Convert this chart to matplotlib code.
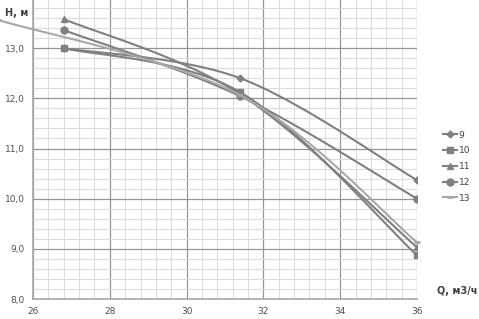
import numpy as np
import matplotlib.pyplot as plt
from matplotlib.ticker import MultipleLocator, FixedLocator, FuncFormatter

# pump curves, Q (m3/h) vs H (m)
q = [26.8, 31.4, 36.0]
q13 = [25.1, 31.4, 36.0]
h9 = [13.0, 12.40, 10.37]
h10 = [13.0, 12.12, 8.87]
h11 = [13.58, 12.08, 9.03]
h12 = [13.36, 12.04, 10.0]
h13 = [13.56, 12.06, 9.13]

labels = ['9', '10', '11', '12', '13']
markers = ['D', 's', '^', 'o', '_']
sizes = [3.5, 5, 4.5, 5, 5]
yticks = [8, 9, 10, 11, 12, 13]

XMIN, XMAX, YMIN, YMAX = 26, 36, 8, 14


def smooth(x, y, n=30):
    # Excel-style bezier smoothing, done in screen-like units
    sx, sy = 384.0 / (XMAX - XMIN), 301.0 / (YMAX - YMIN)
    p = np.column_stack([(np.asarray(x) - XMIN) * sx, (np.asarray(y) - YMIN) * sy])
    out = [p[0]]
    t = np.linspace(0, 1, n + 1)[1:, None]
    for i in range(len(p) - 1):
        p0 = p[max(i - 1, 0)]
        p1, p2 = p[i], p[i + 1]
        p3 = p[min(i + 2, len(p) - 1)]
        c1 = p1 + (p2 - p0) / 6
        c2 = p2 - (p3 - p1) / 6
        seg = ((1 - t) ** 3 * p1 + 3 * (1 - t) ** 2 * t * c1
               + 3 * (1 - t) * t ** 2 * c2 + t ** 3 * p2)
        out.extend(seg)
    out = np.array(out)
    return out[:, 0] / sx + XMIN, out[:, 1] / sy + YMIN


fig = plt.figure(figsize=(4.79, 3.19), dpi=100)
ax = fig.add_axes([33 / 479, 1 - 299 / 319, 384 / 479, 301 / 319])

series = [(q, h9), (q, h10), (q, h11), (q, h12), (q13, h13)]
n = 30
for i, (xs, ys) in enumerate(series):
    cx, cy = smooth(xs, ys, n)
    col = '#a8a8a8' if i == 4 else '#808080'
    ax.plot(cx, cy, color=col, lw=1.5, marker=markers[i], ms=sizes[i],
            mew=2 if i == 4 else 1, markevery=[0, n, 2 * n],
            label=labels[i], clip_on=(i != 4), zorder=3)

ax.set_xlim(XMIN, XMAX)
ax.set_ylim(YMIN, YMAX)
ax.xaxis.set_major_locator(MultipleLocator(2))
ax.xaxis.set_minor_locator(MultipleLocator(0.4))
ax.yaxis.set_major_locator(FixedLocator(yticks))
ax.yaxis.set_minor_locator(MultipleLocator(0.2))
ax.yaxis.set_major_formatter(FuncFormatter(lambda v, p: f'{v:.1f}'.replace('.', ',')))
ax.grid(which='major', color='#969696', lw=0.9)
ax.grid(which='minor', color='#dcdcdc', lw=0.8)
ax.set_axisbelow(True)
ax.tick_params(which='both', length=0, labelsize=6.5, colors='#505050', pad=6)
for s in ['top', 'right']:
    ax.spines[s].set_visible(False)
for s in ['left', 'bottom']:
    ax.spines[s].set_color('#a8a8a8')
    ax.spines[s].set_linewidth(1.2)

fig.text(5 / 479, 1 - 13 / 319, 'H, м', fontsize=7, fontweight='bold',
         color='#404040', va='center')
fig.text(437 / 479, 1 - 291 / 319, 'Q, м3/ч', fontsize=7, fontweight='bold',
         color='#404040', va='center')

fig.legend(loc='upper left', bbox_to_anchor=(438 / 479, 1 - 126 / 319),
           frameon=False, fontsize=6.5, handlelength=1.6, handletextpad=0.2,
           labelspacing=0.75, borderpad=0, labelcolor='#404040')

plt.savefig('out.png', dpi=100)
